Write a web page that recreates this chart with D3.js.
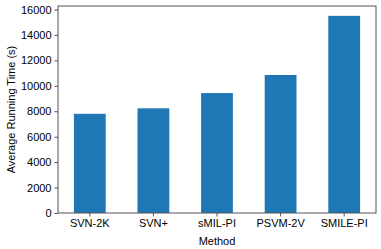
<!DOCTYPE html>
<html>
<head>
<meta charset="utf-8">
<script src="https://cdn.jsdelivr.net/npm/d3@7"></script>
<style>
  body { margin: 0; background: #fff; }
  svg { font-family: "Liberation Sans", Arial, sans-serif; }
  .axis text { font-size: 11px; fill: #000; }
  .axis line, .axis path { stroke: #555; }
  .lab { font-size: 11px; fill: #000; }
</style>
</head>
<body>
<div id="plot"></div>
<script>
const methods = ["SVN-2K", "SVN+", "sMIL-PI", "PSVM-2V", "SMILE-PI"]
const runTimes = [7800, 8230, 9430, 10850, 15500]
const yTicks = [0, 2000, 4000, 6000, 8000, 10000, 12000, 14000, 16000]

const w = 381, h = 249,
    margin = {top: 6, right: 5, bottom: 36, left: 58}

const svg = d3.select("#plot").append("svg")
  .attr("width", w)
  .attr("height", h)

const x = d3.scaleBand()
  .domain(methods)
  .range([margin.left, w - margin.right])
  .paddingInner(0.5)
  .paddingOuter(0.25)

const y = d3.scaleLinear()
  .domain([0, 15500 * 1.05])
  .range([h - margin.bottom, margin.top])

// bars
svg.append("g")
  .selectAll("rect")
  .data(methods)
  .join("rect")
    .attr("x", d => x(d))
    .attr("y", (d, i) => y(runTimes[i]))
    .attr("width", x.bandwidth())
    .attr("height", (d, i) => y(0) - y(runTimes[i]))
    .attr("fill", "#1f77b4")

// frame
svg.append("rect")
  .attr("x", margin.left)
  .attr("y", margin.top)
  .attr("width", w - margin.right - margin.left)
  .attr("height", h - margin.bottom - margin.top)
  .attr("fill", "none")
  .attr("stroke", "#555")
  .attr("stroke-width", 1)

svg.append("g")
  .attr("class", "axis")
  .attr("transform", `translate(0, ${h - margin.bottom})`)
  .call(d3.axisBottom(x).tickSize(3.5).tickPadding(3))
  .call(g => g.select(".domain").remove())

svg.append("g")
  .attr("class", "axis")
  .attr("transform", `translate(${margin.left}, 0)`)
  .call(d3.axisLeft(y).tickValues(yTicks).tickFormat(d3.format("d")).tickSize(3.5).tickPadding(3))
  .call(g => g.select(".domain").remove())

// axis labels
svg.append("text")
  .attr("class", "lab")
  .attr("x", (margin.left + w - margin.right) / 2)
  .attr("y", h - 4)
  .style("text-anchor", "middle")
  .text("Method")

svg.append("text")
  .attr("class", "lab")
  .attr("transform", "rotate(-90)")
  .attr("x", -(margin.top + h - margin.bottom) / 2)
  .attr("y", 15)
  .style("text-anchor", "middle")
  .text("Average Running Time (s)")
</script>
</body>
</html>
